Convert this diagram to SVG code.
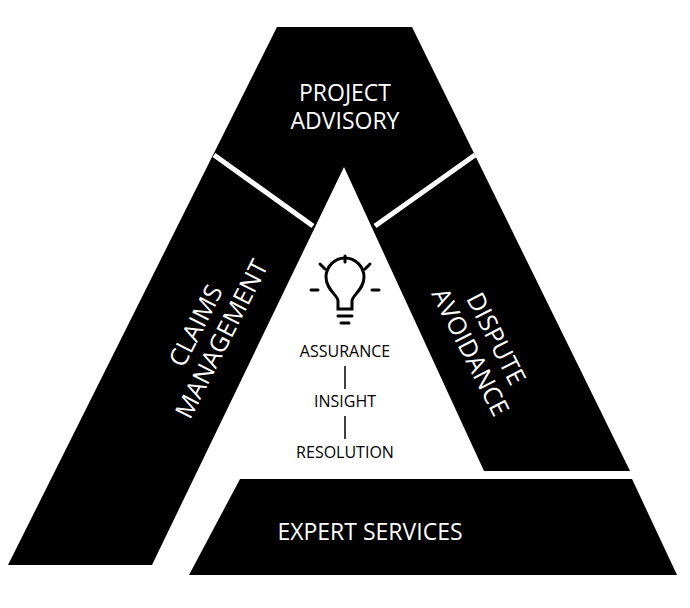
<svg xmlns="http://www.w3.org/2000/svg" width="690" height="608" viewBox="0 0 690 608">
<style>
.b{fill:#000}
.w{fill:#fff;font-family:"Open Sans",sans-serif;font-size:23px;font-weight:500;text-anchor:middle}
.r{font-size:25px}
.k{fill:#000;font-family:"Open Sans",sans-serif;font-size:16px;text-anchor:middle}
.sep{stroke:#fff;stroke-width:5}
.ic{stroke:#000;stroke-width:3;fill:none;stroke-linecap:round}
</style>
<rect width="690" height="608" fill="#fff"/>
<g id="frame">
<polygon class="b" points="277,27 412,27 630,471 484,471 344,167 152,565 8,565"/>
</g>
<g id="connectors">
<line class="sep" x1="214" y1="155" x2="313" y2="226"/>
<line class="sep" x1="475" y1="155" x2="375" y2="226"/>
<line x1="345" y1="366" x2="345" y2="389" stroke="#000" stroke-width="1.5"/>
<line x1="345" y1="416" x2="345" y2="439" stroke="#000" stroke-width="1.5"/>
</g>
<g id="project-advisory">
<text class="w" x="345" y="101">PROJECT</text>
<text class="w" x="345" y="129">ADVISORY</text>
</g>
<g id="claims-management">
<text class="w r" transform="translate(208,332) rotate(-63)"><tspan x="0" y="-5">CLAIMS</tspan><tspan x="0" y="24">MANAGEMENT</tspan></text>
</g>
<g id="dispute-avoidance">
<text class="w r" transform="translate(484,345) rotate(63)"><tspan x="0" y="-5">DISPUTE</tspan><tspan x="0" y="24">AVOIDANCE</tspan></text>
</g>
<g id="expert-services">
<polygon class="b" points="240,479 632,479 677,575 189,575"/>
<text class="w" x="370" y="540">EXPERT SERVICES</text>
</g>
<g id="center">
<g class="ic">
<path d="M338,309 L338,301 C338,295 326,290 326,277 A19,19 0 1 1 364,277 C364,290 352,295 352,301 L352,309 Z"/>
<line x1="338" y1="316" x2="352" y2="316"/>
<line x1="341" y1="323" x2="349" y2="323"/>
<line x1="345" y1="256" x2="345" y2="262"/>
<line x1="320" y1="264" x2="325" y2="269"/>
<line x1="370" y1="264" x2="365" y2="269"/>
<line x1="311" y1="290" x2="318" y2="290"/>
<line x1="372" y1="290" x2="379" y2="290"/>
</g>
<text class="k" x="345" y="357">ASSURANCE</text>
<text class="k" x="345" y="407">INSIGHT</text>
<text class="k" x="345" y="458">RESOLUTION</text>
</g>
</svg>
